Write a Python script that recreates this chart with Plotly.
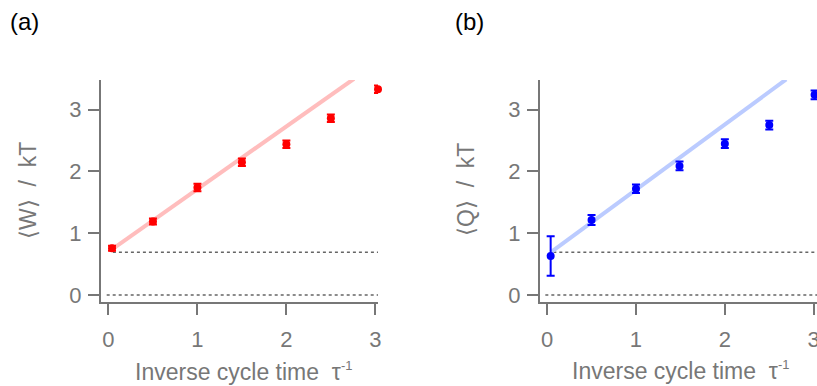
import math
import plotly.graph_objects as go

# ---- data ----
inv_tau = [0.04, 0.5, 1.0, 1.5, 2.0, 2.5, 3.03]
work_mean = [0.757, 1.19, 1.74, 2.15, 2.44, 2.86, 3.33]
work_err = [0.04, 0.05, 0.06, 0.06, 0.06, 0.06, 0.06]

inv_tau_q = [0.04, 0.5, 1.0, 1.49, 2.0, 2.5, 3.01]
heat_mean = [0.63, 1.215, 1.72, 2.09, 2.45, 2.75, 3.24]
heat_err = [0.32, 0.08, 0.07, 0.07, 0.07, 0.07, 0.07]

fit_w_x = [0.04, 2.76]
fit_w_y = [0.74, 3.50]
fit_q_x = [0.04, 2.69]
fit_q_y = [0.69, 3.49]

ref_levels = [0.0, math.log(2)]
ref_start_a = [-0.02, 0.05]
ref_start_b = [-0.02, 0.07]

xticks = [0, 1, 2, 3]
yticks = [0, 1, 2, 3]

GRAY = "#777777"
FONT = "Liberation Sans, Arial, sans-serif"

fig = go.Figure()

# dotted reference lines
for lvl, xs in zip(ref_levels, ref_start_a):
    fig.add_trace(go.Scatter(x=[xs, 3.03], y=[lvl, lvl], mode="lines",
                             line=dict(color="#666666", width=1.5, dash="dot"),
                             xaxis="x", yaxis="y", hoverinfo="skip"))
for lvl, xs in zip(ref_levels, ref_start_b):
    fig.add_trace(go.Scatter(x=[xs, 3.1], y=[lvl, lvl], mode="lines",
                             line=dict(color="#666666", width=1.5, dash="dot"),
                             xaxis="x2", yaxis="y2", hoverinfo="skip"))

# fit lines
fig.add_trace(go.Scatter(x=fit_w_x, y=fit_w_y, mode="lines",
                         line=dict(color="#FFBDBD", width=4),
                         xaxis="x", yaxis="y"))
fig.add_trace(go.Scatter(x=fit_q_x, y=fit_q_y, mode="lines",
                         line=dict(color="#BBCBFF", width=4),
                         xaxis="x2", yaxis="y2"))

# data points
fig.add_trace(go.Scatter(x=inv_tau, y=work_mean, mode="markers",
                         marker=dict(color="#FF0000", size=8),
                         error_y=dict(type="data", array=work_err, color="#FF0000",
                                      thickness=2, width=4),
                         xaxis="x", yaxis="y", cliponaxis=False))
fig.add_trace(go.Scatter(x=inv_tau_q, y=heat_mean, mode="markers",
                         marker=dict(color="#0000FF", size=8),
                         error_y=dict(type="data", array=heat_err, color="#0000FF",
                                      thickness=2, width=4),
                         xaxis="x2", yaxis="y2", cliponaxis=False))

W, H = 817, 386
ydom = [(H - 302) / H, (H - 80) / H]
xdom_a = [101 / W, 378 / W]
xdom_b = [540 / W, 1.0]

axis_common = dict(showgrid=False, zeroline=False, showline=True, linecolor=GRAY,
                   linewidth=2, ticks="outside", ticklen=11, tickwidth=2,
                   automargin=False, ticklabeloverflow="allow",
                   tickcolor=GRAY, tickfont=dict(family=FONT, size=22, color=GRAY))

fig.update_layout(
    width=W, height=H, margin=dict(l=0, r=0, t=0, b=0),
    paper_bgcolor="white", plot_bgcolor="white", showlegend=False,
    xaxis=dict(domain=xdom_a, range=[-0.084, 3.03], tickvals=xticks,
               anchor="y", ticklabelstandoff=6, **axis_common),
    yaxis=dict(domain=ydom, range=[-0.113, 3.48], tickvals=yticks,
               anchor="x", ticklabelstandoff=2, **axis_common),
    xaxis2=dict(domain=xdom_b, range=[-0.08, 3.037], tickvals=xticks,
                anchor="y2", ticklabelstandoff=6, **axis_common),
    yaxis2=dict(domain=ydom, range=[-0.113, 3.48], tickvals=yticks,
                anchor="x2", ticklabelstandoff=2, **axis_common),
)

title_font = dict(family=FONT, size=23, color=GRAY)
xt = "Inverse cycle time  τ<sup><span style='font-size:13px'>-1</span></sup>"
fig.add_annotation(x=243 / W, y=(H - 371) / H, xref="paper", yref="paper",
                   text=xt, showarrow=False, font=title_font, xanchor="center", yanchor="middle")
fig.add_annotation(x=680 / W, y=(H - 370) / H, xref="paper", yref="paper",
                   text=xt, showarrow=False, font=title_font, xanchor="center", yanchor="middle")
fig.add_annotation(x=28 / W, y=(H - 190) / H, xref="paper", yref="paper",
                   text="⟨W⟩  /  kT", textangle=-90, showarrow=False, font=title_font,
                   xanchor="center", yanchor="middle")
fig.add_annotation(x=466 / W, y=(H - 190) / H, xref="paper", yref="paper",
                   text="⟨Q⟩  /  kT", textangle=-90, showarrow=False, font=title_font,
                   xanchor="center", yanchor="middle")

label_font = dict(family=FONT, size=24, color="black")
fig.add_annotation(x=8 / W, y=(H - 22) / H, xref="paper", yref="paper", text="(a)",
                   showarrow=False, font=label_font, xanchor="left", yanchor="middle")
fig.add_annotation(x=453 / W, y=(H - 22) / H, xref="paper", yref="paper", text="(b)",
                   showarrow=False, font=label_font, xanchor="left", yanchor="middle")

fig.write_html(
    "out.html",
    config={"displayModeBar": False},
    post_script="document.body.style.margin='0';document.body.style.overflow='hidden';",
)
